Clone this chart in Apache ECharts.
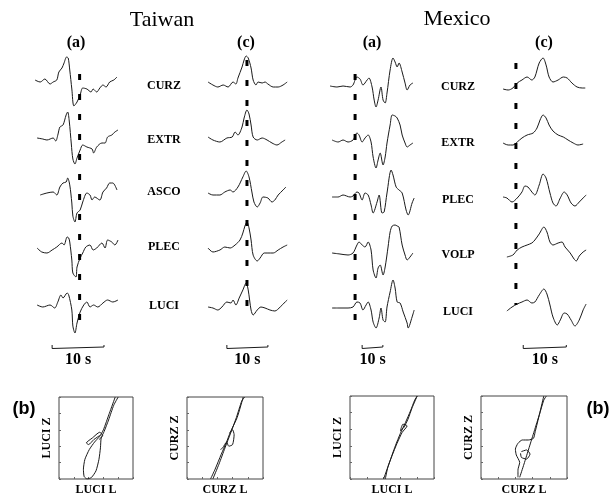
<!DOCTYPE html>
<html><head><meta charset="utf-8">
<script src="https://cdn.jsdelivr.net/npm/echarts@6/dist/echarts.min.js"></script>
<style>html,body{margin:0;padding:0;background:#fff}#c{width:610px;height:497px}</style>
</head><body><div id="c"></div>
<script>
// ---- Data: waveforms [time (s), amplitude (arb. units)] ----
const TW_A_CURZ = [[0,1],[1,-1],[1.9,2],[2.9,-3],[3.5,-1],[4.2,1],[4.6,9],[5.2,13],[5.6,18],[6.1,24],[6.4,23],[6.7,11],[7.1,-8],[7.5,-25],[8.1,-21],[8.7,-14],[9.2,-7],[10,-8],[10.8,-11],[11.2,-8],[11.9,-11],[12.5,-7],[13.1,-4],[13.7,-6],[14.4,-1],[15.2,1],[15.8,4]];
const TW_A_EXTR = [[0.4,1],[1.5,0],[2.3,-1],[3.5,1],[4,-2],[4.4,4],[4.8,12],[5.4,14],[6,24],[6.3,27],[6.6,18],[7.0,-5],[7.3,-20],[7.7,-25],[8.1,-19],[8.7,-11],[9.2,-6],[10,-8],[11,-10],[11.3,-14],[11.9,-8],[12.9,-4],[13.5,-4],[14,2],[14.8,4],[15.4,7],[16,9]];
const TW_A_ASCO = [[1,-1],[2.3,1],[3.5,2],[4.2,-1],[4.8,7],[5.4,11],[6,12],[6.3,16],[6.7,9],[7.1,-9],[7.3,-22],[7.7,-28],[8.1,-19],[8.7,-16],[9.2,-8],[10,1],[10.6,-1],[11,-6],[11.5,-3],[12.5,-6],[13.1,2],[13.8,6],[14.4,11],[15,11],[15.8,4]];
const TW_A_PLEC = [[0.4,0],[1.3,-4],[2.3,-5],[3.3,-2],[4.2,1],[5.2,5],[5.6,3],[6.2,11],[6.5,10],[6.7,6],[7.1,-12],[7.3,-25],[7.9,-29],[8.1,-19],[8.7,-10],[9.2,-5],[9.8,1],[10.6,3],[11.2,-2],[11.9,0],[12.9,5],[13.5,0],[14,8],[14.8,6],[15.4,3],[16,8]];
const TW_A_LUCI = [[0.4,1],[1.5,-1],[2.9,1],[3.8,-2],[4.4,4],[5,11],[5.4,8],[6.2,13],[6.5,11],[7.1,-4],[7.3,-20],[7.7,-27],[8.1,-17],[8.7,-6],[9.4,1],[10,4],[10.6,-1],[11.3,1],[12.1,-1],[13.1,3],[14,6],[15,4],[16,6]];

const TW_C_CURZ = [[0,2],[1.2,-1],[2.4,-3],[3.7,-1],[4.9,-3],[6.1,2],[6.8,0],[7.3,6],[8.3,17],[8.8,24],[9.3,28],[9.8,26],[10.5,16],[11,4],[11.7,-1],[12.2,2],[13.2,1],[13.9,2],[14.6,0],[15.9,-3],[17.1,-3],[18.3,-1],[19.3,2]];
const TW_C_EXTR = [[0,2],[1.2,-1],[2.9,-3],[4.6,1],[5.9,2],[6.6,7],[7.3,4],[8.3,12],[8.8,21],[9.5,29],[10,25],[10.5,14],[11,2],[12,-1],[13.2,1],[14.4,-1],[15.6,-4],[16.8,-6],[18,-3],[18.8,-1]];
const TW_C_ASCO = [[0,1],[1.2,-1],[2.9,-1],[4.1,2],[5.4,4],[6.1,2],[7.3,7],[8.5,17],[9.3,23],[10,17],[10.7,2],[11.2,-8],[12,-13],[12.7,-9],[13.4,-3],[14.6,-4],[15.6,-8],[16.3,-6],[17.1,-1],[18.3,4],[19,7]];
const TW_C_PLEC = [[0,1],[1.2,-3],[2.9,-1],[4.1,2],[5.4,1],[6.6,4],[7.8,9],[8.5,16],[9,23],[9.5,27],[10,21],[10.5,9],[11,-6],[12,-12],[12.7,-9],[13.7,-4],[14.6,-4],[15.9,-4],[17.1,-1],[18.3,2],[19.3,4]];
const TW_C_LUCI = [[0,1],[1.2,0],[2.4,-2],[3.4,1],[4.6,6],[5.6,5],[6.1,8],[6.8,3],[7.6,10],[8.5,18],[9.3,25],[9.8,18],[10.5,-2],[11,-7],[12,-2],[12.9,1],[13.9,0],[15.1,-2],[16.3,-3],[17.6,1],[18.8,6],[19.3,8]];

const MX_A_CURZ = [[0,0],[3.4,-1],[6.3,0],[9.7,-1],[11.1,1],[13,9],[14.5,7],[15.9,1],[17.9,6],[18.8,8],[20.3,-1],[21.3,-14],[22.2,-21],[23.2,-14],[24.6,-1],[25.6,-14],[26.6,-17],[27.5,-7],[29,16],[30.4,28],[31.4,24],[32.4,19],[33.3,23],[34.8,14],[36.2,3],[37.2,-4],[38.6,1],[40,3]];
const MX_A_EXTR = [[1,1],[3.9,-1],[6.3,1],[8.7,-1],[11.1,1],[13,8],[14,6],[15.5,-1],[16.9,3],[18.4,6],[19.8,-1],[20.8,-16],[22.2,-27],[23.2,-19],[24.2,-12],[25.6,-24],[26.6,-16],[27.5,-2],[29,16],[30,26],[31.4,25],[32.4,23],[33.8,16],[34.8,6],[36.2,-2],[37.2,-6],[38.6,-4],[40,-2]];
const MX_A_PLEC = [[1,0],[3.9,0],[6.3,2],[9.7,0],[11.1,1],[13,5],[14,4],[15.5,-3],[16.9,4],[18.4,2],[19.8,-8],[20.8,-16],[22.7,-5],[23.7,2],[25.1,-16],[26.1,-15],[27.5,4],[29.5,27],[30.4,22],[31.9,10],[33.3,7],[34.8,4],[36.7,-13],[37.7,-18],[39.6,-6],[40.6,-1]];
const MX_A_VOLP = [[1,1],[4.8,0],[8.7,-1],[11.1,1],[13,9],[14,12],[15.5,9],[16.9,7],[18.4,12],[19.8,4],[20.8,-16],[22.2,-24],[23.2,-14],[24.2,-11],[25.6,-21],[26.6,-13],[28,7],[29,22],[30,28],[31.4,29],[32.4,28],[33.3,27],[34.8,9],[36.2,-1],[37.2,-6],[38.6,-3],[40,1]];
const MX_A_LUCI = [[1,0],[4.8,0],[8.7,0],[11.1,1],[13,6],[14.5,5],[15.9,-2],[17.4,3],[18.4,6],[19.8,-2],[20.8,-14],[22.2,-20],[23.7,-10],[24.6,0],[25.6,-12],[26.6,-14],[27.5,1],[29,16],[30.4,28],[31.4,20],[32.4,6],[33.8,5],[35.3,-4],[37.2,-15],[37.7,-20],[39.6,-9],[40.6,-2]];

const MX_C_CURZ = [[0,-1],[1.2,-2],[2.3,0],[3.3,5],[4.4,8],[5.6,11],[6.7,8],[7.4,11],[8.4,25],[9.3,30],[10,23],[10.7,11],[11.6,6],[12.8,8],[14,11],[14.9,10],[16,5],[17.2,1],[18.4,0],[19.1,0]];
const MX_C_EXTR = [[0,1],[1.2,-1],[2.3,-1],[3.3,2],[4.4,6],[5.6,9],[7,11],[7.9,16],[8.6,24],[9.3,29],[10,26],[10.7,19],[11.6,13],[12.8,9],[14,7],[15.1,4],[16.3,1],[17.4,-1],[18.6,0]];
const MX_C_PLEC = [[0,1],[0.9,0],[2.1,-4],[3.3,0],[4.4,6],[5.1,12],[5.8,11],[6.7,6],[7.4,3],[8.4,13],[9.3,24],[10,20],[10.9,5],[11.6,-5],[12.3,-8],[13.3,0],[14.2,6],[14.9,3],[15.8,-5],[16.7,-8],[17.7,-4],[18.6,0],[19.3,3]];
const MX_C_VOLP = [[0.9,-1],[2.3,1],[3.3,6],[4.4,9],[5.6,11],[6.7,13],[7.4,16],[8.4,22],[9.5,29],[10.2,24],[10.9,14],[11.6,11],[12.8,13],[13.7,14],[14.4,9],[15.6,3],[16.5,-3],[17,-5],[17.7,0],[18.6,4],[19.3,6]];
const MX_C_LUCI = [[0.9,-3],[2.1,1],[3.3,4],[4.4,6],[5.6,8],[6.7,5],[7.4,6],[8.4,13],[9.5,19],[10.2,14],[10.9,3],[11.6,-9],[12.6,-17],[13.3,-12],[14.2,-5],[14.9,-6],[15.8,-12],[16.7,-18],[17.7,-12],[18.6,-2],[19.3,4]];

// station names
const TW_STATIONS = ['CURZ','EXTR','ASCO','PLEC','LUCI'];
const MX_STATIONS = ['CURZ','EXTR','PLEC','VOLP','LUCI'];
// picks (s) for dashed lines, scale bar start (s)
const PICK_TIMES = [8.6, 9.5, 12.1, 3.0];
const SCALE_START = [3.3, 4.6, 15.5, 4.7];
const SCALE_LEN = 10;
const SCALE_LABEL = '10 s';

// particle motion [L, Z] normalized
const PM_TW_LUCI_1 = [[0.76,1.0],[0.68,0.80],[0.60,0.60],[0.55,0.52],[0.48,0.45],[0.41,0.36],[0.35,0.24],[0.33,0.12],[0.34,0.03],[0.38,0.0],[0.44,0.02],[0.50,0.10],[0.54,0.24],[0.56,0.38],[0.57,0.50],[0.61,0.58],[0.67,0.72],[0.74,0.90],[0.80,1.0]];
const PM_TW_LUCI_2 = [[0.55,0.53],[0.47,0.48],[0.40,0.42],[0.37,0.44],[0.45,0.50],[0.55,0.57],[0.59,0.53],[0.54,0.48]];
const PM_TW_CURZ_1 = [[0.74,1.0],[0.66,0.75],[0.57,0.57],[0.52,0.45],[0.45,0.30],[0.37,0.12],[0.31,0.0]];
const PM_TW_CURZ_2 = [[0.34,0.0],[0.42,0.18],[0.50,0.38],[0.57,0.55],[0.65,0.75],[0.72,0.95],[0.76,1.0]];
const PM_TW_CURZ_3 = [[0.56,0.56],[0.60,0.60],[0.62,0.54],[0.60,0.42],[0.55,0.40],[0.52,0.45],[0.47,0.38],[0.44,0.36]];
const PM_MX_LUCI_1 = [[0.40,0.0],[0.47,0.2],[0.54,0.4],[0.60,0.55],[0.66,0.68],[0.72,0.82],[0.77,0.95],[0.80,1.0]];
const PM_MX_LUCI_2 = [[0.80,1.0],[0.74,0.86],[0.69,0.72],[0.64,0.62],[0.60,0.58],[0.63,0.66],[0.68,0.64],[0.62,0.56],[0.56,0.43],[0.50,0.28],[0.45,0.14],[0.42,0.0]];
const PM_MX_CURZ_1 = [[0.73,1.0],[0.68,0.78],[0.63,0.57],[0.61,0.49],[0.55,0.47],[0.48,0.47],[0.43,0.43],[0.40,0.36],[0.41,0.29],[0.45,0.20],[0.43,0.11],[0.43,0.02]];
const PM_MX_CURZ_2 = [[0.45,0.02],[0.50,0.18],[0.56,0.38],[0.62,0.58],[0.68,0.78],[0.73,0.95],[0.76,1.0]];
const PM_MX_CURZ_3 = [[0.47,0.33],[0.53,0.35],[0.57,0.30],[0.53,0.24],[0.47,0.26],[0.46,0.31]];

// ---- Layout ----
const SERIF = '"Liberation Serif","Times New Roman",serif';
const INK = '#1a1a1a';
const COLUMNS = [
  {traces:[TW_A_CURZ,TW_A_EXTR,TW_A_ASCO,TW_A_PLEC,TW_A_LUCI], base:[81,139,194,248,306], left:35, width:83, tmax:16, dashTop:74, dashH:246, head:'(a)', headX:76},
  {traces:[TW_C_CURZ,TW_C_EXTR,TW_C_ASCO,TW_C_PLEC,TW_C_LUCI], base:[84,139,194,249,308], left:208, width:80, tmax:19.5, dashTop:60, dashH:246, head:'(c)', headX:246},
  {traces:[MX_A_CURZ,MX_A_EXTR,MX_A_PLEC,MX_A_VOLP,MX_A_LUCI], base:[86,141,197,254,308], left:330, width:85, tmax:41, dashTop:74, dashH:246, head:'(a)', headX:372},
  {traces:[MX_C_CURZ,MX_C_EXTR,MX_C_PLEC,MX_C_VOLP,MX_C_LUCI], base:[88,144,198,256,308], left:503, width:84, tmax:19.5, dashTop:63, dashH:242, head:'(c)', headX:544}
];
const BOXES = [
  {left:59, top:397, width:74, height:85, xname:'LUCI L', yname:'LUCI Z', curves:[PM_TW_LUCI_1,PM_TW_LUCI_2]},
  {left:187, top:397, width:76, height:85, xname:'CURZ L', yname:'CURZ Z', curves:[PM_TW_CURZ_1,PM_TW_CURZ_2,PM_TW_CURZ_3]},
  {left:350, top:396, width:84, height:86, xname:'LUCI L', yname:'LUCI Z', curves:[PM_MX_LUCI_1,PM_MX_LUCI_2]},
  {left:481, top:396, width:86, height:86, xname:'CURZ L', yname:'CURZ Z', curves:[PM_MX_CURZ_1,PM_MX_CURZ_2,PM_MX_CURZ_3]}
];

const grid=[], xAxis=[], yAxis=[], series=[], graphic=[];
function addGrid(g, xa, ya){ grid.push(g); xAxis.push(Object.assign({gridIndex:grid.length-1},xa)); yAxis.push(Object.assign({gridIndex:grid.length-1},ya)); return grid.length-1; }
const hidden = {show:false};

COLUMNS.forEach((col,ci)=>{
  col.traces.forEach((tr,ri)=>{
    const gi = addGrid({left:col.left, width:col.width, top:col.base[ri]-40, height:80},
      Object.assign({type:'value',min:0,max:col.tmax},hidden), Object.assign({type:'value',min:-40,max:40},hidden));
    series.push({type:'line', xAxisIndex:gi, yAxisIndex:gi, data:tr, showSymbol:false, smooth:0.3,
      lineStyle:{color:INK,width:1}, silent:true, animation:false});
  });
  // dashed pick line
  const gd = addGrid({left:col.left, width:col.width, top:col.dashTop, height:col.dashH},
    Object.assign({type:'value',min:0,max:col.tmax},hidden), Object.assign({type:'value',min:0,max:1},hidden));
  series.push({type:'line', xAxisIndex:gd, yAxisIndex:gd, data:[[PICK_TIMES[ci],1],[PICK_TIMES[ci],0]], showSymbol:false,
    lineStyle:{color:'#000',width:3,type:[6,14]}, silent:true, animation:false});
  // scale bar
  const gs = addGrid({left:col.left, width:col.width, top:340, height:10},
    Object.assign({type:'value',min:0,max:col.tmax},hidden), Object.assign({type:'value',min:0,max:10},hidden));
  const s0 = SCALE_START[ci], s1 = s0+SCALE_LEN;
  series.push({type:'line', xAxisIndex:gs, yAxisIndex:gs, data:[[s0,5],[s0,1.5],[s0,3],[s1,3],[s1,5],[s1,1.5]], showSymbol:false,
    lineStyle:{color:INK,width:1}, silent:true, animation:false});
  const midX = col.left + (s0+SCALE_LEN/2)/col.tmax*col.width;
  graphic.push({type:'text', style:{text:SCALE_LABEL, x:midX, y:360, textAlign:'center', textVerticalAlign:'middle', verticalAlign:'middle', font:'bold 16px '+SERIF, fill:'#000'}});
  graphic.push({type:'text', style:{text:col.head, x:col.headX, y:43, textAlign:'center', textVerticalAlign:'middle', verticalAlign:'middle', font:'bold 16px '+SERIF, fill:'#000'}});
});

// station labels
const TW_LABEL_Y=[86,140,192,247,306], MX_LABEL_Y=[87,143,200,255,312];
TW_STATIONS.forEach((s,i)=>graphic.push({type:'text', style:{text:s, x:164, y:TW_LABEL_Y[i], textAlign:'center', textVerticalAlign:'middle', verticalAlign:'middle', font:'bold 12px '+SERIF, fill:'#000'}}));
MX_STATIONS.forEach((s,i)=>graphic.push({type:'text', style:{text:s, x:458, y:MX_LABEL_Y[i], textAlign:'center', textVerticalAlign:'middle', verticalAlign:'middle', font:'bold 12px '+SERIF, fill:'#000'}}));
graphic.push({type:'text', style:{text:'Taiwan', x:162, y:20, textAlign:'center', textVerticalAlign:'middle', verticalAlign:'middle', font:'22px '+SERIF, fill:'#000'}});
graphic.push({type:'text', style:{text:'Mexico', x:457, y:19, textAlign:'center', textVerticalAlign:'middle', verticalAlign:'middle', font:'22px '+SERIF, fill:'#000'}});
graphic.push({type:'text', style:{text:'(b)', x:24, y:409, textAlign:'center', textVerticalAlign:'middle', verticalAlign:'middle', font:'bold 18px "Liberation Sans",Arial,sans-serif', fill:'#000'}});
graphic.push({type:'text', style:{text:'(b)', x:598, y:409, textAlign:'center', textVerticalAlign:'middle', verticalAlign:'middle', font:'bold 18px "Liberation Sans",Arial,sans-serif', fill:'#000'}});

// particle motion boxes
BOXES.forEach(b=>{
  const nameStyle = {fontFamily:SERIF, fontWeight:'bold', fontSize:12, color:'#000'};
  const tick = {show:true, inside:true, length:2, lineStyle:{color:'#666'}};
  const gi = addGrid({left:b.left, top:b.top, width:b.width, height:b.height, show:true, borderColor:'#444', borderWidth:1},
    {type:'value', min:0, max:1, interval:0.2, name:b.xname, nameLocation:'middle', nameGap:5, nameTextStyle:Object.assign({verticalAlign:'top'},nameStyle),
     axisLine:{show:false}, axisTick:tick, axisLabel:{show:false}, splitLine:{show:false}},
    {type:'value', min:0, max:1, interval:0.2, name:b.yname, nameLocation:'middle', nameGap:6, nameRotate:90, nameTextStyle:nameStyle,
     axisLine:{show:false}, axisTick:tick, axisLabel:{show:false}, splitLine:{show:false}});
  b.curves.forEach(c=>series.push({type:'line', xAxisIndex:gi, yAxisIndex:gi, data:c, showSymbol:false, smooth:0.2, clip:true,
    lineStyle:{color:INK,width:1}, silent:true, animation:false}));
});

const chart = echarts.init(document.getElementById('c'), null, {renderer:'canvas'});
chart.setOption({animation:false, backgroundColor:'#fff', grid, xAxis, yAxis, series, graphic});
</script></body></html>
